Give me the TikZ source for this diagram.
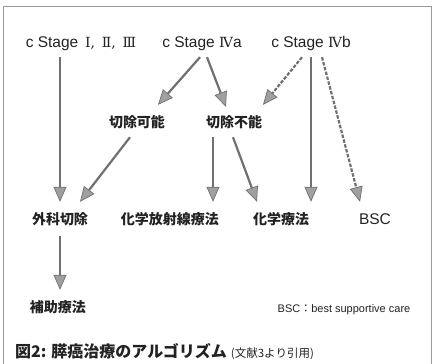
\documentclass[tikz,border=0pt]{standalone}
\usepackage{fontspec}
\setmainfont{Liberation Sans}
\newfontfamily\jp{Noto Sans CJK JP}
\newfontfamily\rn{DejaVu Serif}
\usetikzlibrary{arrows.meta}
\definecolor{txt}{HTML}{222222}
\definecolor{lin}{HTML}{707070}
\definecolor{tipfill}{HTML}{A0A0A0}
\definecolor{frm}{HTML}{9A9A9A}
\tikzset{
  lbl/.style={inner sep=0pt, text height=11pt, text depth=3pt, font=\fontsize{15.5}{17}\selectfont, text=txt},
  jlbl/.style={lbl, font=\fontsize{14}{16}\selectfont\jp\bfseries},
  arr/.style={draw=lin, line width=2.2pt, -{Triangle[width=13pt,length=15pt,fill=tipfill,line width=0.7pt]}},
  darr/.style={arr, dash pattern=on 3.5pt off 1.5pt},
}
\begin{document}
\begin{tikzpicture}[x=1pt,y=-1pt]
\useasboundingbox (0,0) rectangle (432,364);
\draw[frm, line width=0.6pt] (3,364) -- (3,6) -- (431,6) -- (431,364);
% top row
\node[lbl] (s1) at (81,43) {c Stage\, {\rn\fontsize{14}{15}\selectfont Ⅰ,\, Ⅱ,\, Ⅲ}};
\node[lbl] (s2) at (202,43) {c Stage {\rn\fontsize{14}{15}\selectfont Ⅳ}a};
\node[lbl] (s3) at (311,43) {c Stage {\rn\fontsize{14}{15}\selectfont Ⅳ}b};
% middle row
\node[jlbl] (r1) at (137,123) {切除可能};
\node[jlbl] (r2) at (234,123) {切除不能};
% treatment row
\node[jlbl] (t1) at (60,220) {外科切除};
\node[jlbl] (t2) at (170,220) {化学放射線療法};
\node[jlbl] (t3) at (281,220) {化学療法};
\node[lbl] (t4) at (375,220) {BSC};
\node[jlbl] (t5) at (58,308) {補助療法};
% notes
\node[inner sep=0pt, text=txt, font=\fontsize{11}{13}\selectfont] (note) at (344,310) {BSC{\jp ：}best supportive care};
\node[inner sep=0pt, anchor=west, text=txt] (cap) at (15,352) {{\fontsize{16}{18}\selectfont\jp\bfseries 図2: 膵癌治療のアルゴリズム}\hspace{4pt}{\fontsize{11.5}{13}\selectfont\jp (文献3より引用)}};
% arrows
\draw[arr]  ([xshift=-21pt,yshift=-7pt]s1.south) -- ([yshift=11pt]t1.north);
\draw[arr]  ([xshift=-2pt,yshift=-7pt]s2.south) -- ([xshift=21pt,yshift=11pt]r1.north);
\draw[arr]  ([xshift=5pt,yshift=-7pt]s2.south) -- ([xshift=-8pt,yshift=9pt]r2.north);
\draw[darr] ([xshift=-9pt,yshift=-7pt]s3.south) -- ([xshift=29pt,yshift=11pt]r2.north);
\draw[arr]  ([yshift=-7pt]s3.south) -- ([xshift=30pt,yshift=11pt]t3.north);
\draw[darr] ([xshift=11pt,yshift=-7pt]s3.south) -- ([xshift=-15pt,yshift=11pt]t4.north);
\draw[arr]  ([xshift=-7pt,yshift=-7pt]r1.south) -- ([xshift=20pt,yshift=11pt]t1.north);
\draw[arr]  ([xshift=-21pt,yshift=-7pt]r2.south) -- ([xshift=43pt,yshift=11pt]t2.north);
\draw[arr]  ([xshift=-1pt,yshift=-7pt]r2.south) -- ([xshift=-24pt,yshift=11pt]t3.north);
\draw[arr]  ([yshift=-9pt]t1.south) -- ([xshift=2pt,yshift=11pt]t5.north);
\end{tikzpicture}
\end{document}
